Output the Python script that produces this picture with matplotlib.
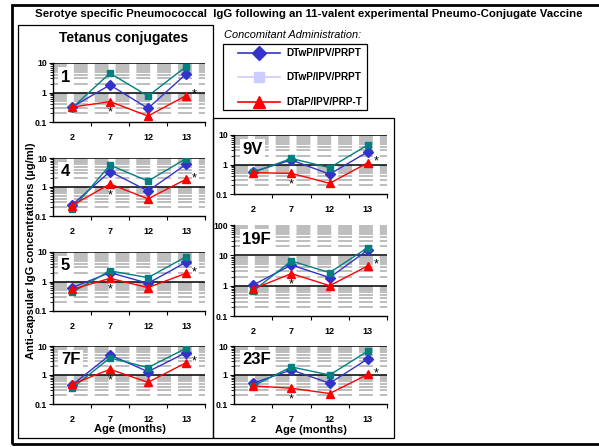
import numpy as np
import matplotlib
matplotlib.use('Agg')
import matplotlib.pyplot as plt
from matplotlib.lines import Line2D
from matplotlib.patches import Rectangle
from matplotlib.ticker import FixedLocator, NullFormatter, FuncFormatter

plt.rcParams['font.family'] = ['Liberation Sans', 'DejaVu Sans']
plt.rcParams['font.weight'] = 'bold'
plt.rcParams['lines.scale_dashes'] = False

# ---------------- data ----------------
ages = ['2', '7', '12', '13']
series_labels = ['DTwP/IPV/PRPT', 'DTwP/IPV/PRPT', 'DTaP/IPV/PRP-T']
serotypes = ['1', '4', '5', '7F', '9V', '19F', '23F']
y_top = [10, 10, 10, 10, 10, 100, 10]

blue_1 = [0.32, 1.8, 0.29, 4.2]
teal_1 = [0.30, 4.5, 0.76, 7.5]
red_1 = [0.32, 0.49, 0.16, 0.78]

blue_4 = [0.24, 3.4, 0.73, 6.0]
teal_4 = [0.17, 5.7, 1.6, 9.5]
red_4 = [0.23, 1.27, 0.39, 1.85]

blue_5 = [0.62, 2.0, 0.87, 4.5]
teal_5 = [0.43, 2.3, 1.35, 6.9]
red_5 = [0.54, 1.28, 0.62, 1.9]

blue_7F = [0.45, 4.9, 1.3, 5.9]
teal_7F = [0.35, 3.9, 1.8, 8.3]
red_7F = [0.48, 1.57, 0.56, 2.65]

blue_9V = [0.57, 1.42, 0.47, 2.7]
teal_9V = [0.54, 1.6, 0.78, 4.6]
red_9V = [0.53, 0.50, 0.23, 1.15]

blue_19F = [1.05, 4.8, 1.85, 15]
teal_19F = [0.67, 6.5, 2.7, 18]
red_19F = [0.78, 2.5, 1.0, 4.5]

blue_23F = [0.52, 1.5, 0.52, 3.6]
teal_23F = [0.42, 1.9, 1.0, 6.7]
red_23F = [0.42, 0.35, 0.23, 1.05]

blue = [blue_1, blue_4, blue_5, blue_7F, blue_9V, blue_19F, blue_23F]
teal = [teal_1, teal_4, teal_5, teal_7F, teal_9V, teal_19F, teal_23F]
red = [red_1, red_4, red_5, red_7F, red_9V, red_19F, red_23F]
significant = [1, 3]   # ages 7 and 13 marked with *

# ---------------- layout (pixels) ----------------
W, H = 599, 447
fig = plt.figure(figsize=(W / 100, H / 100), dpi=100)

def fx(x):
    return x / W

def fy(y):
    return 1 - y / H

# (x0, y0, x1, y1) in pixels
boxes = [(53, 63, 205, 122), (53, 158, 205, 216), (53, 252, 205, 311), (53, 346, 205, 404),
         (234, 135, 387, 194), (234, 225, 387, 316), (234, 346, 387, 404)]

BLUE = '#3333cc'
TEAL = '#008080'
RED = '#ff0000'
LIGHT = '#ccccff'

x = np.arange(len(ages))
for i, name in enumerate(serotypes):
    x0, y0, x1, y1 = boxes[i]
    ax = fig.add_axes([fx(x0), fy(y1), fx(x1 - x0), (y1 - y0) / H])
    ax.set_yscale('log')
    ax.set_ylim(0.1, y_top[i])
    ax.set_xlim(-0.5, len(ages) - 0.5)
    ax.patch.set_alpha(0)
    decades = [d for d in [1, 10, 100] if 0.1 < d < y_top[i] * 1.01]
    minors = [m * d for d in [0.1, 1, 10] for m in range(2, 10) if m * d < y_top[i]]
    ax.yaxis.set_major_locator(FixedLocator([0.1] + decades))
    ax.yaxis.set_major_formatter(FuncFormatter(lambda v, p: '%g' % v))
    ax.yaxis.set_minor_locator(FixedLocator(minors))
    ax.yaxis.set_minor_formatter(NullFormatter())
    for m in minors:
        ax.axhline(m, color='#b8b8b8', lw=1.3, ls=(0, (10, 5)), zorder=1)
    for d in decades:
        if d < 100:
            ax.axhline(d, color='black', lw=1.1, zorder=1.5)
    ax.set_xticks(x)
    ax.set_xticklabels(ages)
    ax.set_xticks(np.arange(len(ages)) + 0.5, minor=True)
    ax.tick_params(axis='x', which='major', length=0, labelsize=6.5, pad=8)
    ax.tick_params(axis='x', which='minor', length=3, width=0.8, direction='out')
    ax.tick_params(axis='y', which='major', length=3, width=0.8, labelsize=6.3, pad=1.5)
    ax.tick_params(axis='y', which='minor', length=2, width=0.6, direction='out')
    for s in ['top', 'right']:
        ax.spines[s].set_visible(False)
    for s in ['left', 'bottom']:
        ax.spines[s].set_linewidth(1.0)

    ax.plot(x, blue[i], color=BLUE, marker='D', ms=5, lw=1, zorder=3)
    ax.plot(x, teal[i], color=TEAL, marker='s', ms=5, lw=1, zorder=4)
    ax.plot(x, red[i], color=RED, marker='^', ms=6, lw=1, zorder=5)
    for k in significant:
        if k == len(ages) - 1:
            off = (8, 1)
        else:
            off = (0, -11)
        ax.annotate('*', xy=(x[k], red[i][k]), xytext=off, textcoords='offset pixels',
                    ha='center', va='center', fontsize=9, fontweight='normal', zorder=6)
    ax.annotate(name, xy=(0, 1), xycoords='axes fraction', xytext=(8, -14),
                textcoords='offset pixels', ha='left', va='center', fontsize=12,
                fontweight='bold', zorder=2.5,
                bbox=dict(boxstyle='square,pad=0.15', fc='white', ec='none'))

# ---------------- frames ----------------
def rect(x0, y0, x1, y1, lw):
    fig.add_artist(Rectangle((fx(x0), fy(y1)), fx(x1 - x0), (y1 - y0) / H,
                             transform=fig.transFigure, fill=False, ec='black', lw=lw))

rect(12, 5, 610, 444, 2.0)
rect(18, 25, 213, 438, 0.9)
rect(213, 118, 394, 438, 0.9)
rect(223, 44, 367, 110, 0.9)

# ---------------- texts ----------------
fig.text(fx(309), fy(14), 'Serotye specific Pneumococcal  IgG following an 11-valent experimental Pneumo-Conjugate Vaccine',
         ha='center', va='center', fontsize=8.2, fontweight='bold')
fig.text(fx(124), fy(38), 'Tetanus conjugates', ha='center', va='center', fontsize=10, fontweight='bold')
fig.text(fx(224), fy(35), 'Concomitant Administration:', ha='left', va='center', fontsize=7.9,
         fontweight='normal', style='italic')
fig.text(fx(31), fy(251), 'Anti-capsular IgG concentrations (\u00b5g/ml)', ha='center', va='center',
         rotation=90, fontsize=8, fontweight='bold')
fig.text(fx(130), fy(429), 'Age (months)', ha='center', va='center', fontsize=8, fontweight='bold')
fig.text(fx(311), fy(430), 'Age (months)', ha='center', va='center', fontsize=8, fontweight='bold')

# ---------------- legend ----------------
handles = [Line2D([], [], color=BLUE, marker='D', ms=7, lw=1.2),
           Line2D([], [], color=LIGHT, marker='s', ms=7, lw=1.2),
           Line2D([], [], color=RED, marker='^', ms=9, lw=1.2)]
fig.legend(handles, series_labels, loc='upper left', bbox_to_anchor=(fx(238), fy(48)),
           frameon=False, borderpad=0, borderaxespad=0, handlelength=4.2, handletextpad=0.6,
           labelspacing=1.45, numpoints=1, prop={'weight': 'bold', 'size': 7.2})

fig.savefig('out.png', dpi=100)
